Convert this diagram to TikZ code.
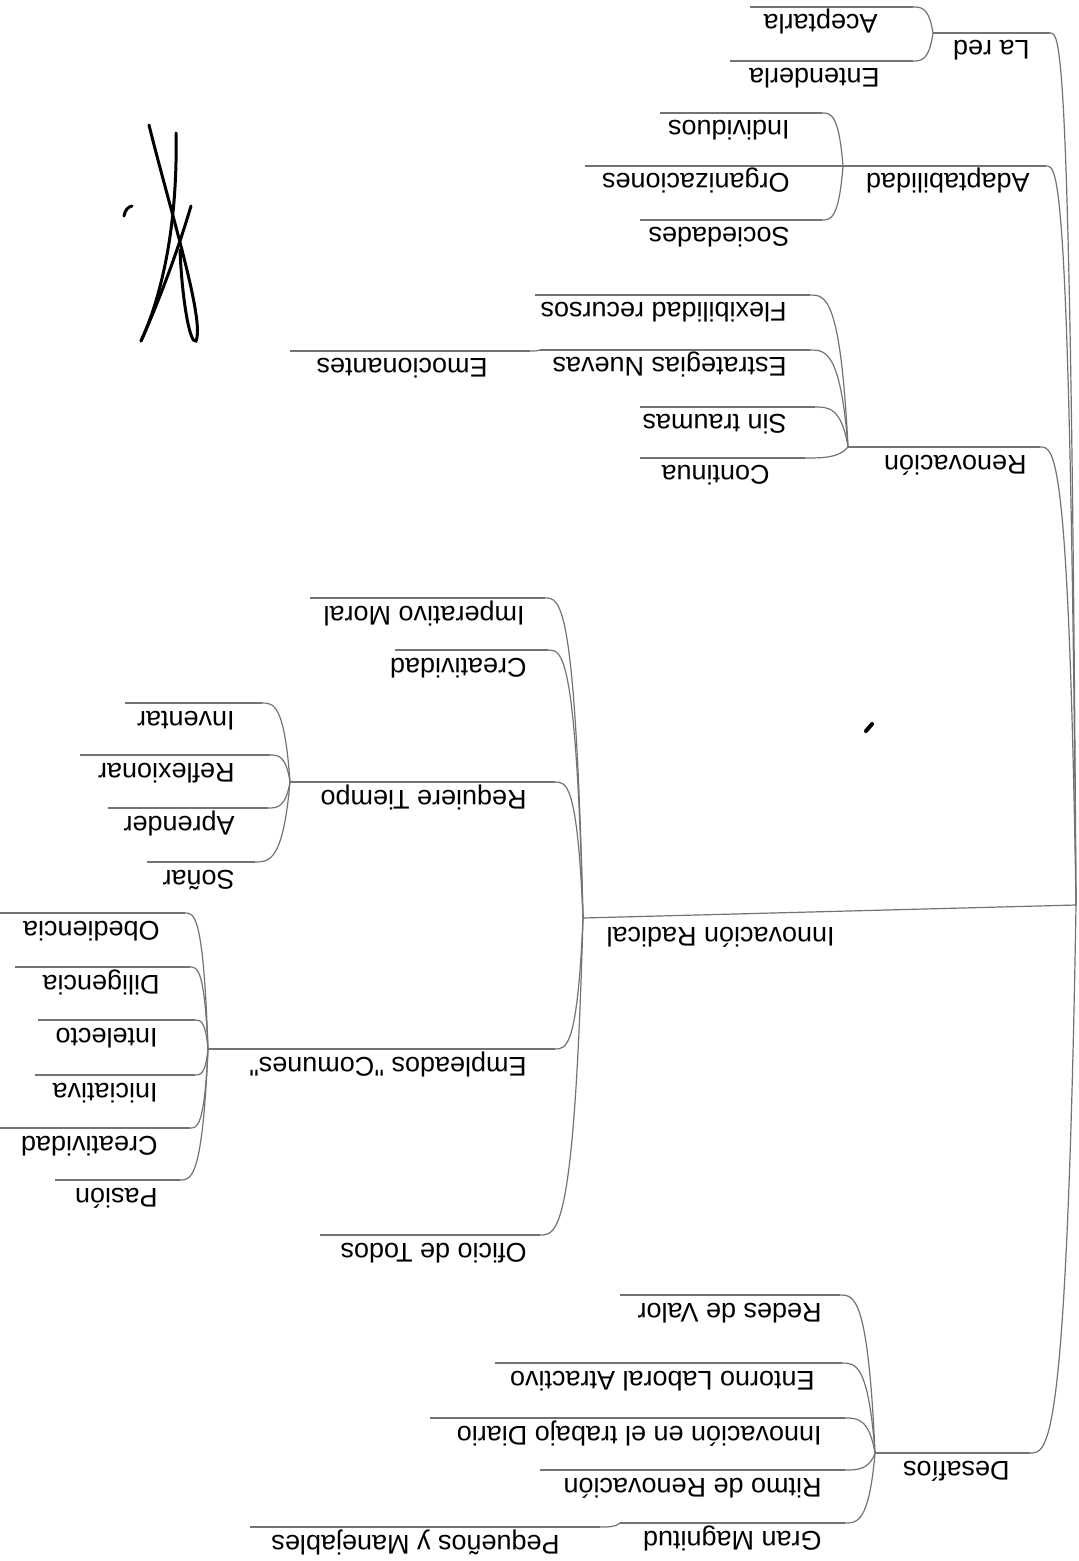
\documentclass[tikz,border=0pt]{standalone}
\usepackage{fontspec}
\setmainfont{Liberation Sans}[Ligatures=TeXOff]
\usetikzlibrary{calc}
\tikzset{
  branch/.style={draw=black!55, line width=0.6pt},
  lbl/.style={rotate=180, anchor=base west, inner sep=0pt, font=\fontsize{13.5pt}{16pt}\selectfont, text=black},
  elbow/.style={to path={let \p1=(\tikztostart), \p2=(\tikztotarget) in .. controls ({\x1-0.2*(\x1-\x2)},\y2) and ({\x2+0.4*(\x1-\x2)},\y2) .. (\tikztotarget)}},
  ink/.style={draw=black, line width=1.5pt, line cap=round}
}
\newcommand\mmtopic[6]{%
  \coordinate (#1-l) at (#3,#2);
  \coordinate (#1-r) at (#4,#2);
  \draw[branch] (#1-l) -- (#1-r);
  \node[lbl] (#1) at (#5,{#2+8}) {#6};
}
\begin{document}
\begin{tikzpicture}[x=0.5pt,y=-0.5pt]
\fill[white] (0,0) rectangle (1078,1561);
\useasboundingbox (0,0) rectangle (1078,1561);

\coordinate (O) at (1076,905);

% ---- La red
\mmtopic{lared}{33}{933}{1050}{1030}{La red}
\draw[branch] (O) to[elbow] (lared-r);
\mmtopic{acept}{7}{750}{913}{878}{Aceptarla}
\mmtopic{entend}{61}{730}{913}{880}{Entenderla}
\draw[branch] (lared-l) to[elbow] (acept-r);
\draw[branch] (lared-l) to[elbow] (entend-r);

% ---- Adaptabilidad
\mmtopic{adapt}{166}{843}{1046}{1030}{Adaptabilidad}
\draw[branch] (O) to[elbow] (adapt-r);
\mmtopic{indiv}{113}{660}{822}{790}{Individuos}
\mmtopic{organ}{166}{585}{825}{790}{Organizaciones}
\mmtopic{socied}{220}{640}{822}{790}{Sociedades}
\draw[branch] (adapt-l) to[elbow] (indiv-r);
\draw[branch] (adapt-l) to[elbow] (organ-r);
\draw[branch] (adapt-l) to[elbow] (socied-r);

% ---- Renovacion
\mmtopic{renov}{447}{848}{1040}{1027}{Renovación}
\draw[branch] (O) to[elbow] (renov-r);
\mmtopic{flex}{295}{535}{810}{787}{Flexibilidad recursos}
\mmtopic{estrat}{350}{540}{810}{787}{Estrategias Nuevas}
\mmtopic{sintr}{407}{640}{815}{787}{Sin traumas}
\mmtopic{contin}{458}{640}{805}{770}{Continua}
\mmtopic{emoc}{351}{290}{530}{488}{Emocionantes}
\draw[branch] (renov-l) to[elbow] (flex-r);
\draw[branch] (renov-l) to[elbow] (estrat-r);
\draw[branch] (renov-l) to[elbow] (sintr-r);
\draw[branch] (renov-l) to[elbow] (contin-r);
\draw[branch] (estrat-l) to[elbow] (emoc-r);

% ---- Innovacion Radical
\coordinate (innov-l) at (583,918);
\draw[branch] (O) -- (innov-l);
\node[lbl] (innov) at (835,927) {Innovación Radical};

\mmtopic{imper}{598}{310}{545}{525}{Imperativo Moral}
\mmtopic{creat}{650}{395}{548}{527}{Creatividad}
\mmtopic{requi}{782}{290}{555}{527}{Requiere Tiempo}
\mmtopic{emple}{1049}{208}{555}{527}{Empleados "Comunes"}
\mmtopic{oficio}{1235}{320}{540}{527}{Oficio de Todos}
\draw[branch] (innov-l) to[elbow] (imper-r);
\draw[branch] (innov-l) to[elbow] (creat-r);
\draw[branch] (innov-l) to[elbow] (requi-r);
\draw[branch] (innov-l) to[elbow] (emple-r);
\draw[branch] (innov-l) to[elbow] (oficio-r);

\mmtopic{invent}{703}{125}{262}{235}{Inventar}
\mmtopic{reflex}{755}{80}{270}{235}{Reflexionar}
\mmtopic{aprend}{808}{108}{268}{235}{Aprender}
\mmtopic{sonar}{862}{147}{255}{235}{Soñar}
\draw[branch] (requi-l) to[elbow] (invent-r);
\draw[branch] (requi-l) to[elbow] (reflex-r);
\draw[branch] (requi-l) to[elbow] (aprend-r);
\draw[branch] (requi-l) to[elbow] (sonar-r);

\mmtopic{obed}{913}{0}{185}{160}{Obediencia}
\mmtopic{dilig}{967}{15}{190}{160}{Diligencia}
\mmtopic{intel}{1020}{38}{195}{158}{Intelecto}
\mmtopic{inic}{1075}{35}{195}{158}{Iniciativa}
\mmtopic{creatb}{1128}{0}{190}{158}{Creatividad}
\mmtopic{pasion}{1180}{55}{180}{158}{Pasión}
\draw[branch] (emple-l) to[elbow] (obed-r);
\draw[branch] (emple-l) to[elbow] (dilig-r);
\draw[branch] (emple-l) to[elbow] (intel-r);
\draw[branch] (emple-l) to[elbow] (inic-r);
\draw[branch] (emple-l) to[elbow] (creatb-r);
\draw[branch] (emple-l) to[elbow] (pasion-r);

% ---- Desafios
\mmtopic{desaf}{1453}{875}{1030}{1010}{Desafíos}
\draw[branch] (O) to[elbow] (desaf-r);
\mmtopic{redes}{1295}{620}{840}{822}{Redes de Valor}
\mmtopic{entorno}{1363}{495}{842}{815}{Entorno Laboral Atractivo}
\mmtopic{innotrab}{1418}{430}{845}{822}{Innovación en el trabajo Diario}
\mmtopic{ritmo}{1470}{540}{845}{822}{Ritmo de Renovación}
\mmtopic{gran}{1523}{620}{845}{822}{Gran Magnitud}
\mmtopic{peque}{1527}{250}{600}{560}{Pequeños y Manejables}
\draw[branch] (desaf-l) to[elbow] (redes-r);
\draw[branch] (desaf-l) to[elbow] (entorno-r);
\draw[branch] (desaf-l) to[elbow] (innotrab-r);
\draw[branch] (desaf-l) to[elbow] (ritmo-r);
\draw[branch] (desaf-l) to[elbow] (gran-r);
\draw[branch] (gran-l) to[elbow] (peque-r);

% ---- hand-drawn marks
\draw[ink] (149,125) .. controls (170,210) and (205,320) .. (196,341) .. controls (190,345) and (182,300) .. (180,250);
\draw[ink] (176,133) .. controls (178,230) and (160,300) .. (141,341);
\draw[ink] (191,206) .. controls (175,260) and (155,310) .. (141,341);
\draw[ink] (124,216) .. controls (125,210) and (128,207) .. (132,206);
\draw[ink, line width=2pt] (866,731) -- (872,724);
\end{tikzpicture}
\end{document}
